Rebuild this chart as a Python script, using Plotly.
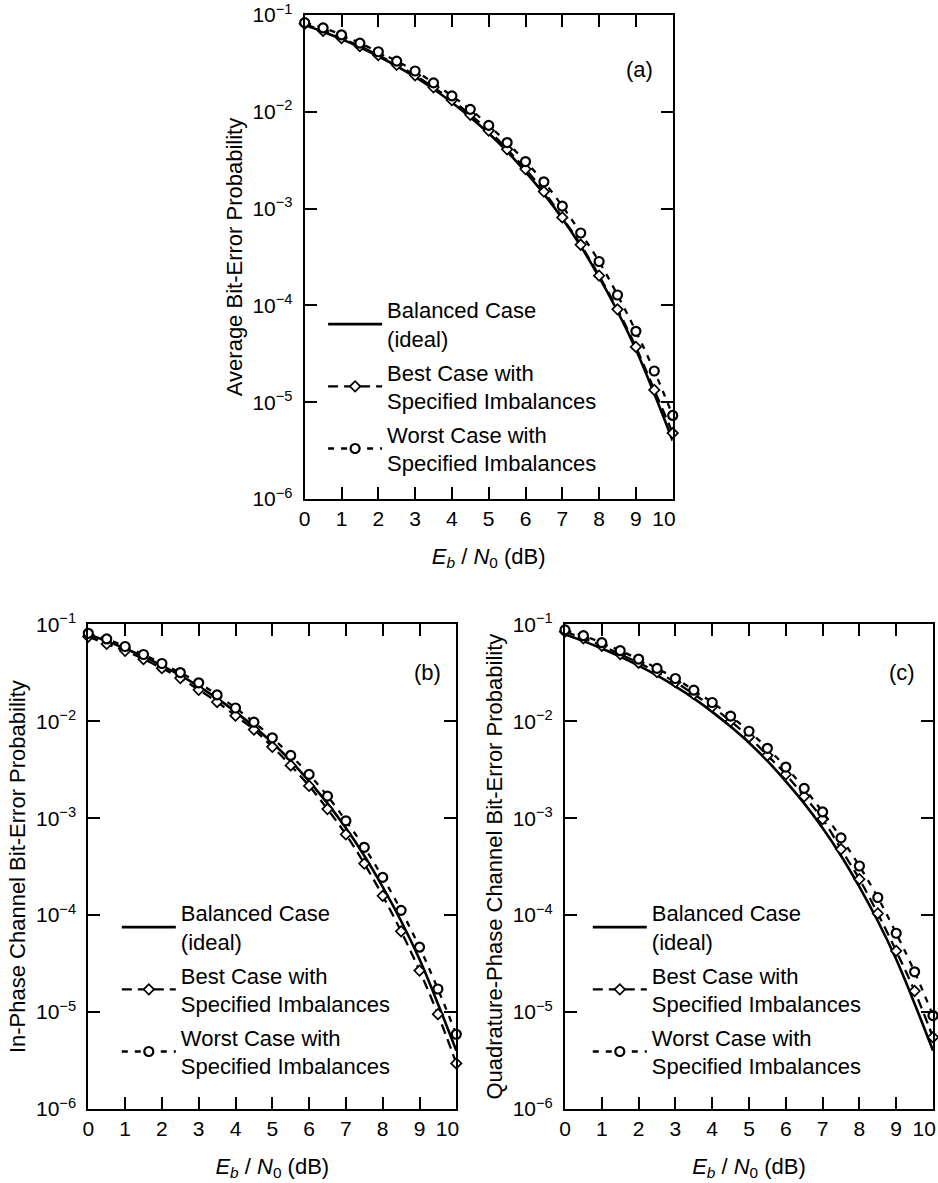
import plotly.graph_objects as go

# ---------------- data ----------------
EBN0_DB = [0, 0.5, 1, 1.5, 2, 2.5, 3, 3.5, 4, 4.5, 5,
           5.5, 6, 6.5, 7, 7.5, 8, 8.5, 9, 9.5, 10]

BALANCED = [0.0786, 0.0671, 0.0563, 0.0464, 0.0375, 0.0297, 0.0229, 0.0172,
            0.0125, 0.0088, 0.0060, 0.0039, 0.0024, 0.00142, 0.00079, 0.00041,
            0.000196, 8.7e-5, 3.5e-5, 1.22e-5, 4.0e-6]

AVG_BEST = [0.081, 0.0685, 0.0576, 0.0476, 0.0385, 0.0306, 0.0238, 0.0179,
            0.0132, 0.0093, 0.0064, 0.0041, 0.00256, 0.0015, 0.00081, 0.000423,
            0.000203, 9.1e-5, 3.72e-5, 1.34e-5, 4.8e-6]
AVG_WORST = [0.0834, 0.0735, 0.0624, 0.0512, 0.0417, 0.0334, 0.0264, 0.0199,
             0.0146, 0.0106, 0.00724, 0.00481, 0.00306, 0.00189, 0.00106, 0.00056,
             0.000284, 0.000128, 5.4e-5, 2.1e-5, 7.3e-6]

I_BEST = [0.0747, 0.0628, 0.0532, 0.0437, 0.0353, 0.0279, 0.0211, 0.0158,
          0.0114, 0.0082, 0.00545, 0.0035, 0.00215, 0.00124, 0.00068, 0.00034,
          0.000158, 6.8e-5, 2.68e-5, 9.5e-6, 2.95e-6]
I_WORST = [0.0808, 0.0706, 0.059, 0.0488, 0.0394, 0.0318, 0.0249, 0.0187,
           0.0137, 0.00978, 0.00675, 0.00444, 0.00283, 0.00169, 0.00094, 0.0005,
           0.000245, 0.000112, 4.67e-5, 1.73e-5, 5.9e-6]

Q_BEST = [0.084, 0.0716, 0.0601, 0.0493, 0.0401, 0.0321, 0.0253, 0.019,
          0.0141, 0.0100, 0.00689, 0.00445, 0.00283, 0.00168, 0.00098, 0.00048,
          0.000235, 0.000104, 4.27e-5, 1.65e-5, 5.5e-6]
Q_WORST = [0.0874, 0.0763, 0.0646, 0.0534, 0.0438, 0.0351, 0.0276, 0.0209,
           0.0156, 0.0113, 0.00788, 0.00526, 0.00337, 0.00203, 0.00116, 0.000626,
           0.000321, 0.000152, 6.5e-5, 2.6e-5, 9.2e-6]

X_TICKS = [0, 1, 2, 3, 4, 5, 6, 7, 8, 9, 10]
X_TICK_TEXT = ["0", "1", "2", "3", "4", "5", "6", "7", "8", "9",
               "10\u00a0\u00a0\u00a0"]
Y_TICKS = [1e-6, 1e-5, 1e-4, 1e-3, 1e-2, 1e-1]
Y_TICK_TEXT = ["10<sup>\u22126</sup>", "10<sup>\u22125</sup>", "10<sup>\u22124</sup>",
               "10<sup>\u22123</sup>", "10<sup>\u22122</sup>", "10<sup>\u22121</sup>"]

SERIES_NAMES = ["Balanced Case<br>(ideal)",
                "Best Case with<br>Specified Imbalances",
                "Worst Case with<br>Specified Imbalances"]

PANELS = [
    dict(label="(a)", ytitle="Average Bit-Error Probability",
         best=AVG_BEST, worst=AVG_WORST),
    dict(label="(b)", ytitle="In-Phase Channel Bit-Error Probability",
         best=I_BEST, worst=I_WORST),
    dict(label="(c)", ytitle="Quadrature-Phase Channel Bit-Error Probability",
         best=Q_BEST, worst=Q_WORST),
]

# ---------------- layout geometry ----------------
W, H = 938, 1183
FONT = "Arial, Liberation Sans, Helvetica, sans-serif"
FS = 22
TFS = 21

def px_x(p):
    return p / W

def px_y(p):
    return 1 - p / H

DOMAINS = [
    dict(x=[px_x(304.7), px_x(672.7)], y=[px_y(499), px_y(15)]),
    dict(x=[px_x(88.3), px_x(456.3)], y=[px_y(1109), px_y(624.3)]),
    dict(x=[px_x(565), px_x(933)], y=[px_y(1109), px_y(624.3)]),
]
LEGEND_POS = [(390.5, 289), (184.2, 892), (655.2, 892)]  # text-left x, top y (px)
LABEL_POS = [(639, 70), (427, 672), (901.7, 672)]         # label centre (px)

fig = go.Figure()

for i, p in enumerate(PANELS):
    sfx = "" if i == 0 else str(i + 1)
    xa, ya = "x" + sfx, "y" + sfx
    leg = "legend" + sfx
    fig.add_trace(go.Scatter(
        x=EBN0_DB, y=BALANCED, mode="lines", name=SERIES_NAMES[0],
        line=dict(color="black", width=2.6, shape="spline"),
        xaxis=xa, yaxis=ya, legend=leg, legendgroup=f"bal{i}", cliponaxis=False))
    fig.add_trace(go.Scatter(
        x=EBN0_DB, y=p["best"], mode="lines+markers", name=SERIES_NAMES[1],
        line=dict(color="black", width=2.3, dash="10px,6px", shape="spline"),
        marker=dict(symbol="diamond", size=8, color="white",
                    line=dict(color="black", width=1.7)),
        xaxis=xa, yaxis=ya, legend=leg, legendgroup=f"best{i}", cliponaxis=False))
    fig.add_trace(go.Scatter(
        x=EBN0_DB, y=p["worst"], mode="lines+markers", name=SERIES_NAMES[2],
        line=dict(color="black", width=2.3, dash="6px,7px", shape="spline"),
        marker=dict(symbol="circle", size=9, color="white",
                    line=dict(color="black", width=2.2)),
        xaxis=xa, yaxis=ya, legend=leg, legendgroup=f"worst{i}", cliponaxis=False))

    axis_common = dict(showline=True, linecolor="black", linewidth=2, mirror="ticks",
                       ticks="inside", ticklen=12, tickwidth=1.5, tickcolor="black",
                       showgrid=False, zeroline=False, automargin=False,
                       ticklabeloverflow="allow",
                       tickfont=dict(family=FONT, size=TFS, color="black"))
    fig.update_layout({
        "xaxis" + sfx: dict(axis_common, domain=DOMAINS[i]["x"], anchor=ya,
                            range=[0, 10], tickmode="array", tickvals=X_TICKS,
                            ticktext=X_TICK_TEXT,
                            title=dict(text="<i>E</i><sub><i>b</i></sub> / <i>N</i><sub>0</sub> (dB)",
                                       font=dict(family=FONT, size=FS, color="black"),
                                       standoff=19)),
        "yaxis" + sfx: dict(axis_common, domain=DOMAINS[i]["y"], anchor=xa,
                            type="log", range=[-6, -1], tickmode="array",
                            tickvals=Y_TICKS, ticktext=Y_TICK_TEXT,
                            ticklabelstandoff=6,
                            title=dict(text=p["ytitle"],
                                       font=dict(family=FONT, size=FS, color="black"),
                                       standoff=4)),
        leg: dict(x=px_x(LEGEND_POS[i][0] - 67.4), y=px_y(LEGEND_POS[i][1]),
                  xanchor="left", yanchor="top", traceorder="grouped",
                  tracegroupgap=2, itemwidth=54, bgcolor="rgba(0,0,0,0)",
                  font=dict(family=FONT, size=FS, color="black")),
    })
    fig.add_annotation(text=p["label"], xref="paper", yref="paper",
                       x=px_x(LABEL_POS[i][0]), y=px_y(LABEL_POS[i][1]),
                       xanchor="center", yanchor="middle", showarrow=False,
                       font=dict(family=FONT, size=FS, color="black"))

fig.update_layout(width=W, height=H, margin=dict(l=0, r=0, t=0, b=0, autoexpand=False),
                  paper_bgcolor="white", plot_bgcolor="white", showlegend=True)

fig.write_html("out.html",
               config={"displayModeBar": False},
               post_script="document.body.style.margin='0';"
                           "document.body.style.padding='0';"
                           "document.body.style.overflow='hidden';"
                           "document.documentElement.style.overflow='hidden';")
